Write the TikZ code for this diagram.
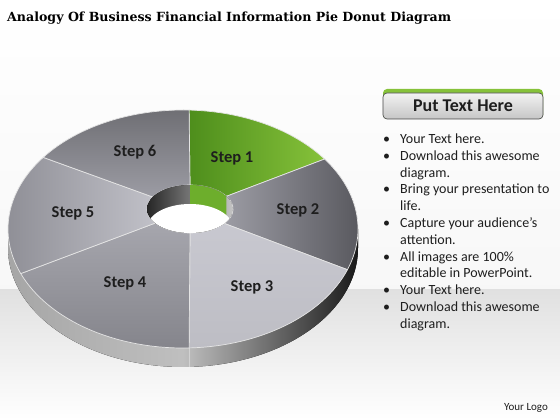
\documentclass[tikz,border=0pt]{standalone}
\usepackage{fontspec}
\setmainfont{Carlito}
\newfontfamily\titlefont{DejaVu Serif}[BoldFont={DejaVu Serif Bold}]
\usepackage{tikz}
\usetikzlibrary{
  positioning,
  calc
}
\definecolor{stepGreenA}{HTML}{4E8E1C}
\definecolor{stepGreenB}{HTML}{86C23A}
\definecolor{holeGreen}{HTML}{6DAE2C}
\definecolor{segDark}{HTML}{55555B}
\definecolor{segMid}{HTML}{9C9CA4}
\definecolor{segLight}{HTML}{C8C8D0}
\definecolor{textDark}{HTML}{1E1E1E}
\tikzstyle{divider}=[draw=white!80!gray, line width=0.7pt]
\tikzstyle{steplabel}=[font=\bfseries\fontsize{16.5}{16.5}\selectfont, text=textDark]
\tikzstyle{button}=[rounded corners=4pt, minimum width=160pt, minimum height=26pt,
  top color=gray!10, bottom color=gray!45, draw=gray!55!black, line width=0.6pt,
  font=\bfseries\fontsize{18}{18}\selectfont, text=textDark]

\begin{document}
\begin{tikzpicture}[x=1pt, y=1pt]
      \def\orx{175};
      \def\ory{119};
      \def\irx{43};
      \def\iry{24};
      \def\depth{19};
      % 一つの扇形: 外側の角度 #1,#2 / 内側の角度 #3,#4
      \def\segpath#1#2#3#4{($(H)+(#3:\irx pt and \iry pt)$) -- ($(O)+(#1:\orx pt and \ory pt)$)
        arc[start angle=#1, end angle=#2, x radius=\orx, y radius=\ory]
        -- ($(H)+(#4:\irx pt and \iry pt)$)
        arc[start angle=#4, end angle=#3, x radius=\irx, y radius=\iry] -- cycle}

      % 中心の座標
      \coordinate (O) at (183,191);
      \coordinate (H) at (190,211);

      % 背景
      \useasboundingbox (0,0) rectangle (560,420);
      \fill[top color=white, bottom color=gray!6] (0,130) rectangle (560,420);
      \fill[top color=gray!24, bottom color=white] (0,0) rectangle (560,130);

      % タイトル
      \node (title) [anchor=base west, inner sep=0pt] at (7,398)
        {\titlefont\bfseries\fontsize{12.6}{12.6}\selectfont Analogy Of Business Financial Information Pie Donut Diagram};

      % 側面
      \fill[left color=gray!70, right color=black!90, middle color=gray!50]
        ($(O)+(-\orx,0)$) -- ++(0,-\depth)
        arc[start angle=180, end angle=360, x radius=\orx, y radius=\ory]
        -- ++(0,\depth) -- cycle;
      \draw[gray!35, line width=0.6pt] ($(O)+(-88:\orx pt and \ory pt)$) -- ++(0,-\depth);

      % 扇形
      \shadedraw[divider, left color=stepGreenA, right color=stepGreenB] \segpath{88}{36}{90}{32};
      \shadedraw[divider, left color=segMid, right color=segDark] \segpath{36}{-20}{32}{-37};
      \shadedraw[divider, top color=segLight, bottom color=segLight!85!gray] \segpath{-20}{-88}{-37}{-90};
      \shadedraw[divider, top color=segMid!90!white, bottom color=segMid!85!black] \segpath{-88}{-158}{-90}{-144};
      \shadedraw[divider, left color=segMid!90!black, right color=segLight!90!gray] \segpath{-158}{-217}{-144}{-210};
      \shadedraw[divider, top color=segDark!85!white, bottom color=segMid] \segpath{-217}{-272}{-210}{-270};

      % 穴
      \begin{scope}
        \clip (H) ellipse[x radius=\irx, y radius=\iry];
        \fill[left color=black!85, right color=gray!45] (H) ellipse[x radius=\irx, y radius=\iry];
        \fill[holeGreen] ($(H)+(90:\irx pt and \iry pt)$)
          arc[start angle=90, end angle=32, x radius=\irx, y radius=\iry]
          -- ++(0,-\depth) -- ($(H)+(0,5-\depth)$) -- cycle;
        \fill[white] ($(H)+(0,-\depth)$) ellipse[x radius=\irx, y radius=\iry];
      \end{scope}

      % ラベル
      \node (step1) [steplabel] at (232,262) {Step 1};
      \node (step2) [steplabel] at (298,210) {Step 2};
      \node (step3) [steplabel] at (252,133) {Step 3};
      \node (step4) [steplabel] at (125,137) {Step 4};
      \node (step5) [steplabel] at (73,207) {Step 5};
      \node (step6) [steplabel] at (135,268) {Step 6};

      % ボタン
      \fill[stepGreenB, rounded corners=4pt] (383,301) rectangle (543,331);
      \node (btn) [button] at (463,314) {Put Text Here};

      % 箇条書き
      \node (bullets) [anchor=north west, inner sep=0pt, text=textDark] at (383,288.5) {%
        \fontsize{14}{16.8}\selectfont
        \begin{tabular}{@{}p{17pt}@{}l@{}}
          \textbullet & Your Text here.\\
          \textbullet & Download this awesome\\
                      & diagram.\\
          \textbullet & Bring your presentation to\\
                      & life.\\
          \textbullet & Capture your audience’s\\
                      & attention.\\
          \textbullet & All images are 100\%\\
                      & editable in PowerPoint.\\
          \textbullet & Your Text here.\\
          \textbullet & Download this awesome\\
                      & diagram.
        \end{tabular}};

      % ロゴ
      \node (logo) [font=\fontsize{11}{11}\selectfont, text=textDark] at (526,12) {Your Logo};
\end{tikzpicture}
\end{document}
